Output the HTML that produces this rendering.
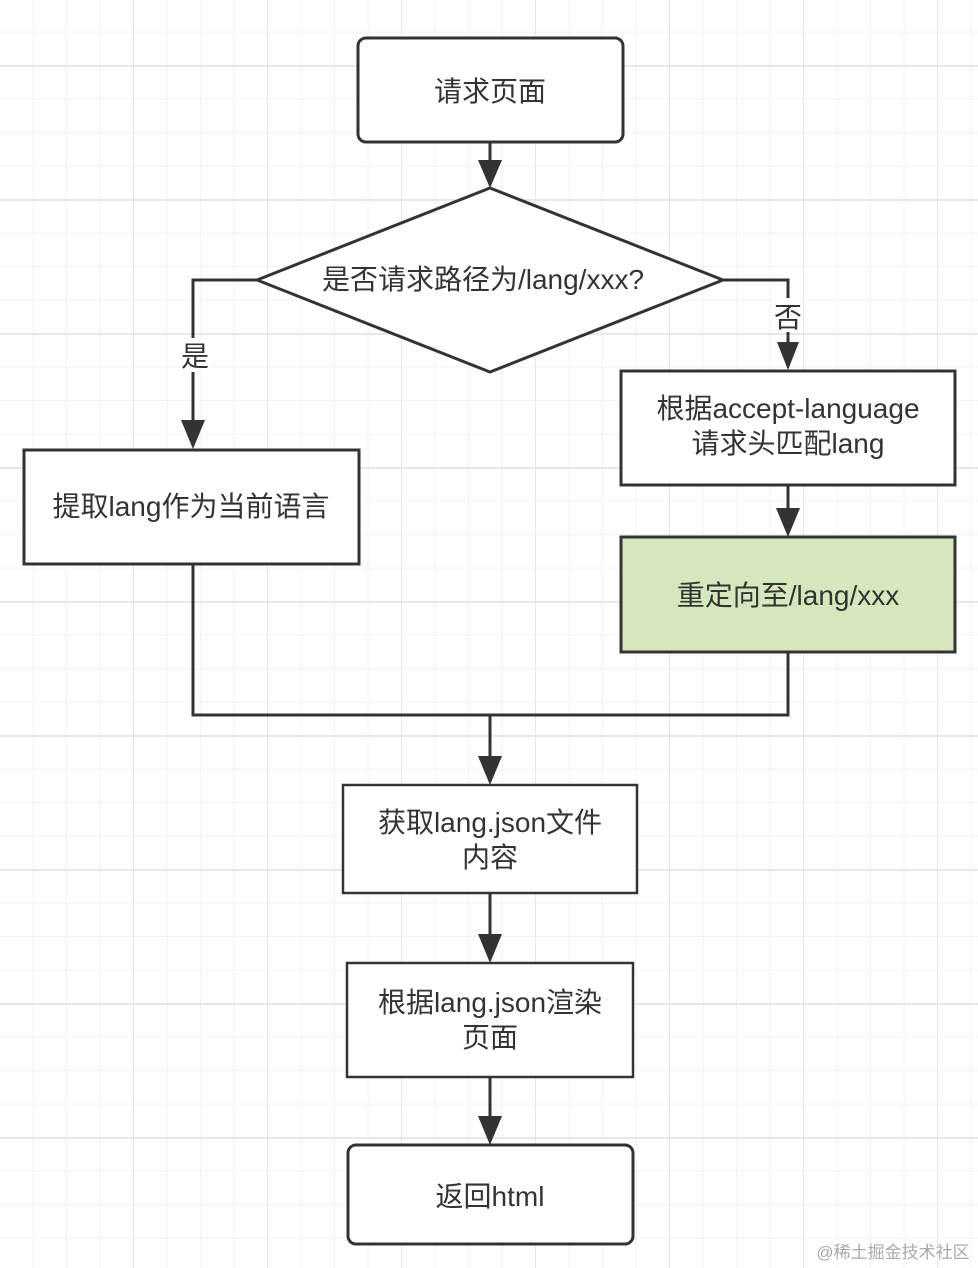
<!DOCTYPE html>
<html><head><meta charset="utf-8"><style>
html,body{margin:0;padding:0;background:#fff}
svg{display:block}
text{font-family:"Liberation Sans","Noto Sans CJK SC",sans-serif;font-size:28px;fill:#333;text-anchor:middle}
</style></head><body>
<svg width="978" height="1268" viewBox="0 0 978 1268" xmlns="http://www.w3.org/2000/svg">
<defs>
<pattern id="g" x="0" y="-1" width="33.5" height="33.5" patternUnits="userSpaceOnUse">
<path d="M33.5 0V33.5M0 33.5H33.5" stroke="#efefef" stroke-width="1.5" fill="none"/>
</pattern>
<pattern id="G" x="0" y="-1" width="134" height="134" patternUnits="userSpaceOnUse">
<path d="M134 0V134M0 67H134" stroke="#e2e2e2" stroke-width="1.5" fill="none"/>
</pattern>
</defs>
<rect width="978" height="1268" fill="url(#g)"/>
<rect width="978" height="1268" fill="url(#G)"/>
<g stroke="#333" fill="none" stroke-width="3">
<path d="M490 142V168"/>
<path d="M257 280H193V420"/>
<path d="M723 280H788V342"/>
<path d="M788 485V510"/>
<path d="M193 564V715H788V652"/>
<path d="M490 715V758"/>
<path d="M490 893V936"/>
<path d="M490 1077V1118"/>
</g>
<g fill="#333">
<path d="M478 160L502 160L490 188Z"/>
<path d="M181 420L205 420L193 449Z"/>
<path d="M777 342L799 342L788 370Z"/>
<path d="M776 508L800 508L788 537Z"/>
<path d="M478 756L502 756L490 785Z"/>
<path d="M478 934L502 934L490 963Z"/>
<path d="M478 1116L502 1116L490 1145Z"/>
</g>
<rect x="180" y="338" width="30" height="34" fill="#fff"/>
<rect x="773" y="298" width="30" height="34" fill="#fff"/>
<g stroke="#333" stroke-width="3">
<rect x="358" y="38" width="265" height="104" rx="8" fill="#fff"/>
<path d="M257 280L490 188L723 280L490 372Z" fill="#fff"/>
<rect x="24" y="450" width="335" height="114" fill="#fff"/>
<rect x="621" y="371" width="334" height="114" fill="#fff"/>
<rect x="621" y="537" width="334" height="115" fill="#d5e8bd"/>
<rect x="343" y="785" width="294" height="108" fill="#fff" stroke-width="2.5"/>
<rect x="347" y="963" width="286" height="114" fill="#fff" stroke-width="2.5"/>
<rect x="348" y="1145" width="285" height="99" rx="8" fill="#fff"/>
</g>
<text x="490" y="101">请求页面</text>
<text x="483" y="289">是否请求路径为/lang/xxx?</text>
<text x="195" y="366">是</text>
<text x="788" y="327">否</text>
<text x="191" y="516">提取lang作为当前语言</text>
<text x="788" y="418">根据accept-language</text>
<text x="788" y="453">请求头匹配lang</text>
<text x="788" y="605">重定向至/lang/xxx</text>
<text x="490" y="832">获取lang.json文件</text>
<text x="490" y="867">内容</text>
<text x="490" y="1012">根据lang.json渲染</text>
<text x="490" y="1047">页面</text>
<text x="490" y="1206">返回html</text>
<text x="893" y="1258" style="font-size:17px;fill:#aaa">@稀土掘金技术社区</text>
</svg>
</body></html>
